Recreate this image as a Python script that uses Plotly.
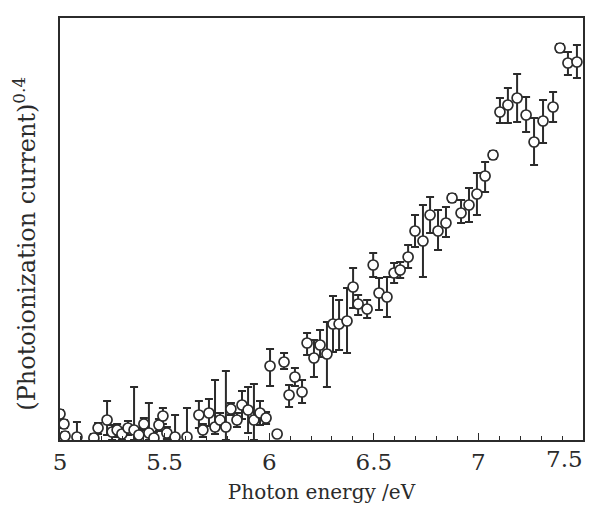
import plotly.graph_objects as go

# Photon energy (eV)
energy = [5.000, 5.019, 5.024, 5.081, 5.162, 5.182, 5.225, 5.249, 5.273, 5.296,
          5.325, 5.354, 5.377, 5.401, 5.425, 5.449, 5.473, 5.492, 5.511, 5.550,
          5.607, 5.664, 5.683, 5.712, 5.741, 5.765, 5.793, 5.817, 5.846, 5.870,
          5.899, 5.927, 5.956, 5.985, 6.004, 6.038, 6.071, 6.095, 6.123, 6.157,
          6.181, 6.214, 6.243, 6.276, 6.305, 6.334, 6.372, 6.401, 6.425, 6.468,
          6.497, 6.525, 6.563, 6.597, 6.626, 6.664, 6.697, 6.735, 6.769, 6.807,
          6.845, 6.874, 6.917, 6.955, 6.993, 7.032, 7.070, 7.103, 7.141, 7.185,
          7.228, 7.266, 7.309, 7.357, 7.390, 7.428, 7.471]
# (Photoionization current)^0.4, arbitrary units
signal = [0.26, 0.16, 0.04, 0.03, 0.02, 0.12, 0.20, 0.08, 0.10, 0.06,
          0.12, 0.10, 0.05, 0.16, 0.07, 0.02, 0.15, 0.24, 0.07, 0.03,
          0.03, 0.25, 0.10, 0.27, 0.13, 0.20, 0.13, 0.31, 0.20, 0.35,
          0.30, 0.20, 0.27, 0.22, 0.74, 0.06, 0.78, 0.45, 0.63, 0.48,
          0.97, 0.82, 0.95, 0.86, 1.16, 1.16, 1.19, 1.53, 1.36, 1.31,
          1.75, 1.47, 1.43, 1.67, 1.70, 1.83, 2.09, 1.99, 2.25, 2.09,
          2.17, 2.42, 2.27, 2.35, 2.46, 2.64, 2.85, 3.28, 3.35, 3.42,
          3.25, 2.98, 3.19, 3.33, 3.92, 3.77, 3.78]
err_plus = [0.04, 0.04, 0.04, 0.15, 0.04, 0.05, 0.19, 0.07, 0.06, 0.06,
            0.07, 0.43, 0.07, 0.06, 0.30, 0.06, 0.06, 0.08, 0.06, 0.22,
            0.29, 0.14, 0.06, 0.14, 0.47, 0.07, 0.56, 0.06, 0.07, 0.14,
            0.23, 0.36, 0.12, 0.06, 0.17, 0.03, 0.09, 0.10, 0.09, 0.12,
            0.10, 0.18, 0.15, 0.32, 0.28, 0.24, 0.33, 0.19, 0.09, 0.09,
            0.12, 0.15, 0.20, 0.10, 0.08, 0.12, 0.16, 0.36, 0.18, 0.21,
            0.16, 0.04, 0.13, 0.17, 0.21, 0.14, 0.04, 0.14, 0.17, 0.24,
            0.18, 0.24, 0.21, 0.15, 0.04, 0.11, 0.17]
err_minus = [0.04, 0.04, 0.04, 0.03, 0.02, 0.06, 0.15, 0.08, 0.07, 0.06,
             0.07, 0.10, 0.06, 0.06, 0.07, 0.03, 0.06, 0.08, 0.06, 0.03,
             0.03, 0.13, 0.07, 0.13, 0.07, 0.07, 0.13, 0.06, 0.07, 0.14,
             0.23, 0.20, 0.12, 0.06, 0.20, 0.03, 0.07, 0.12, 0.09, 0.11,
             0.12, 0.19, 0.12, 0.33, 0.28, 0.26, 0.32, 0.21, 0.11, 0.09,
             0.12, 0.17, 0.20, 0.10, 0.08, 0.11, 0.16, 0.36, 0.18, 0.19,
             0.14, 0.04, 0.10, 0.17, 0.21, 0.16, 0.04, 0.11, 0.18, 0.24,
             0.17, 0.23, 0.22, 0.15, 0.04, 0.12, 0.16]

major_ticks = [5, 5.5, 6, 6.5, 7]
major_labels = ["5", "5.5", "6", "6.5", "7"]
last_label = "7.5"
y_title = "(Photoionization current)<sup>0.4</sup>"

ink = "#2b2b2b"
font_family = "DejaVu Serif, Liberation Serif, serif"

fig = go.Figure()
fig.add_trace(go.Scatter(
    x=energy, y=signal, mode="markers",
    marker=dict(symbol="circle", size=10, color="white",
                line=dict(color=ink, width=1.7)),
    error_y=dict(type="data", symmetric=False, array=err_plus,
                 arrayminus=err_minus, color=ink, thickness=2, width=4),
    showlegend=False, cliponaxis=True,
))

fig.update_layout(
    width=596, height=506,
    margin=dict(l=60, r=13, t=18, b=66),
    paper_bgcolor="white", plot_bgcolor="white",
    font=dict(family=font_family, color=ink, size=22),
    xaxis=dict(
        range=[5, 7.5], showgrid=False, zeroline=False, automargin=False,
        showline=True, linecolor=ink, linewidth=1.8, mirror=True,
        ticks="inside", ticklen=7, tickwidth=1.2, tickcolor=ink,
        tickvals=major_ticks, ticktext=major_labels,
        tickfont=dict(size=23, family=font_family, color=ink),
        minor=dict(ticks="inside", ticklen=4, tickwidth=1, tickcolor=ink, dtick=0.1),
        title=dict(text="Photon energy /eV", font=dict(size=20, family=font_family, color=ink), standoff=11),
    ),
    yaxis=dict(
        range=[0, 4.22], showgrid=False, zeroline=False, automargin=False,
        showline=True, linecolor=ink, linewidth=1.8, mirror=True,
        ticks="", showticklabels=False,
    ),
)

fig.add_annotation(
    x=-0.067, y=0.465, xref="paper", yref="paper", text=y_title, showarrow=False,
    textangle=-90, xanchor="center", yanchor="middle",
    font=dict(size=24, family=font_family, color=ink),
)

fig.add_annotation(
    x=7.5, y=0, xref="x", yref="paper", text=last_label, showarrow=False,
    xanchor="right", yanchor="top", yshift=-4, xshift=2,
    font=dict(size=23, family=font_family, color=ink),
)

fig.write_html("out.html")
